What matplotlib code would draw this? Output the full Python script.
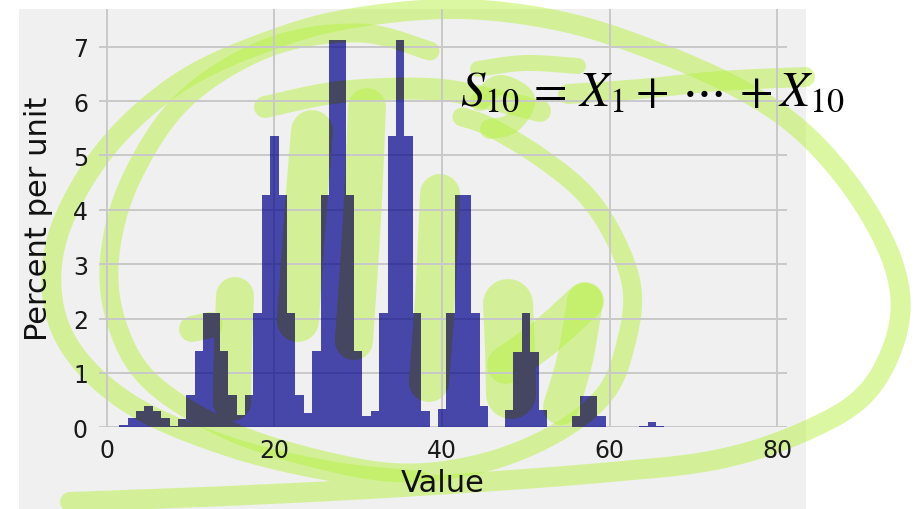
import numpy as np
import matplotlib
matplotlib.use("Agg")
import matplotlib.pyplot as plt
from matplotlib.patches import Rectangle

# histogram of S10: unit bins centred on the integers, heights in percent per unit
values = list(range(2, 67))
percent_per_unit = [
    0.04, 0.18, 0.30, 0.39, 0.30, 0.18, 0.03, 0.15, 0.59,          # 2-10
    1.40, 2.10, 2.10, 1.40, 0.59, 0.23, 0.59, 2.10, 4.27, 5.35,    # 11-20
    4.27, 2.10, 0.59, 0.26, 1.40, 4.27, 7.13, 7.13, 4.27, 1.40,    # 21-30
    0.20, 0.30, 2.10, 5.35, 7.13, 5.35, 2.10, 0.30, 0.00, 0.34,    # 31-40
    2.10, 4.27, 4.27, 2.11, 0.40, 0.00, 0.00, 0.32, 1.39, 2.11,    # 41-50
    1.39, 0.32, 0.00, 0.00, 0.00, 0.20, 0.58, 0.58, 0.20, 0.00,    # 51-60
    0.00, 0.00, 0.00, 0.03, 0.10, 0.03,                            # 61-66
]
x_ticks = [0, 20, 40, 60, 80]
y_ticks = [0, 1, 2, 3, 4, 5, 6, 7]

W, H = 915, 510

# highlighter scribbles drawn over the screenshot, in pixel coordinates (x, y down)
strokes = [
    # big outer loop
    ([(70, 503), (250, 496), (420, 487), (600, 474), (720, 460), (810, 430), (868, 392),
      (898, 330), (895, 270), (860, 200), (805, 135), (740, 90), (650, 50), (560, 22),
      (460, 10), (360, 18), (280, 38), (185, 80), (110, 145), (62, 225), (52, 295),
      (75, 355), (135, 408), (230, 448), (330, 472), (420, 482)], 20),
    # inner loop
    ([(430, 52), (360, 34), (270, 48), (185, 100), (132, 178), (110, 255), (116, 322),
      (150, 382), (230, 432), (330, 463), (410, 474), (490, 462), (560, 432), (607, 392),
      (627, 340), (632, 290), (615, 240), (585, 195), (540, 158), (490, 128), (462, 118)], 19),
    # under the formula
    ([(265, 108), (340, 93), (430, 90), (490, 100), (540, 112)], 22),
    ([(478, 70), (525, 64), (578, 67)], 16),
    ([(568, 95), (640, 90), (720, 82), (805, 78)], 20),
    ([(480, 102), (500, 86), (525, 100), (512, 124), (490, 130)], 20),
    # fingers over the peaks
    ([(192, 330), (210, 326)], 26),
    ([(235, 297), (233, 350), (232, 403)], 38),
    ([(312, 132), (305, 220), (298, 322)], 42),
    ([(367, 108), (362, 220), (354, 342)], 38),
    ([(440, 195), (435, 300), (429, 383)], 40),
    ([(508, 305), (510, 350), (511, 395)], 50),
    ([(585, 302), (545, 338), (506, 366)], 38),
    ([(585, 302), (575, 360), (561, 408)], 36),
]


def smooth(pts, n=24):
    pts = np.asarray(pts, float)
    if len(pts) < 3:
        return pts
    p = np.vstack([pts[0], pts, pts[-1]])
    t = np.linspace(0, 1, n, endpoint=False)[:, None]
    out = []
    for i in range(1, len(p) - 2):
        p0, p1, p2, p3 = p[i - 1], p[i], p[i + 1], p[i + 2]
        out.append(0.5 * (2 * p1 + (-p0 + p2) * t + (2 * p0 - 5 * p1 + 4 * p2 - p3) * t ** 2
                          + (-p0 + 3 * p1 - 3 * p2 + p3) * t ** 3))
    out.append(pts[-1:])
    return np.vstack(out)


plt.style.use('fivethirtyeight')
fig = plt.figure(figsize=(W / 100, H / 100), dpi=100, facecolor='white')

# grey notebook figure area
fig.patches.append(Rectangle((19 / W, 0), (806 - 19) / W, 1 - 10 / H, transform=fig.transFigure,
                             facecolor='#f0f0f0', edgecolor='none', zorder=-5))

# highlighter layer under the axes
hl = fig.add_axes([0, 0, 1, 1], zorder=0)
hl.set_xlim(0, W)
hl.set_ylim(H, 0)
hl.axis('off')
hl.patch.set_alpha(0)
lw_scale = 72 / 100
for pts, w in strokes:
    xy = smooth(pts)
    hl.plot(xy[:, 0], xy[:, 1], color=(184 / 255, 240 / 255, 68 / 255), alpha=0.5,
            lw=w * lw_scale, solid_capstyle='round', solid_joinstyle='round')

ax = fig.add_axes([99 / W, 1 - 428.3 / H, (786.7 - 99) / W, (428.3 - 10) / H], zorder=1)
ax.patch.set_alpha(0)
edges = np.arange(values[0] - 0.5, values[-1] + 1.5, 1)
_, _, patches = ax.hist(values, bins=edges, weights=percent_per_unit, histtype='stepfilled',
                        color='darkblue', alpha=0.7, linewidth=0)
ax.set_xlim(-0.92, 81.1)
ax.set_ylim(0, 7.694)
ax.set_xticks(x_ticks)
ax.set_yticks(y_ticks)
ax.grid(True, color='#c8c8c8', linewidth=1.4)
ax.tick_params(axis='both', labelsize=17, labelcolor='#1a1a1a', length=0, pad=8)
for s in ax.spines.values():
    s.set_visible(False)
ax.set_xlabel('Value', fontsize=22, color='#111111')
ax.set_ylabel('Percent per unit', fontsize=22, color='#111111')
ax.xaxis.set_label_coords(0.5, -0.097)
ax.yaxis.set_label_coords(-0.067, 0.5)

# highlighter seen through the bars (darker where it covers them)
top = fig.add_axes([0, 0, 1, 1], zorder=2)
top.set_xlim(0, W)
top.set_ylim(H, 0)
top.axis('off')
top.patch.set_alpha(0)
bars = patches[0]
for pts, w in strokes:
    xy = smooth(pts)
    ln, = top.plot(xy[:, 0], xy[:, 1], color='#45465f', lw=w * lw_scale,
                   solid_capstyle='round', solid_joinstyle='round')
    ln.set_clip_path(bars.get_path(), bars.get_transform())

fig.text(460 / W, 1 - 105 / H, r'$S_{10}\,=\,X_1+\,\cdots\,+X_{10}$', fontsize=35,
         math_fontfamily='stix', ha='left', va='baseline', color='black', zorder=5)

fig.savefig('out.png', dpi=100, facecolor='white')
